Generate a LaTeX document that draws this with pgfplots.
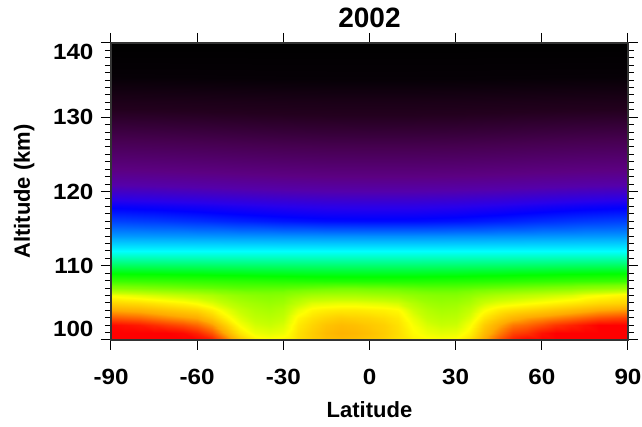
\documentclass[border=0pt]{standalone}
\usepackage{fontspec}
\setmainfont{Liberation Sans}
\newfontfamily\tickfont{Liberation Sans}[FakeStretch=1.1]
\usepackage{pgfplots}
\pgfplotsset{compat=1.18}
\begin{document}
\begin{tikzpicture}
\begin{axis}[
  scale only axis, width=517pt, height=297pt,
  xmin=-90, xmax=90, ymin=100, ymax=140,
  xtick={-90,-60,-30,0,30,60,90}, xticklabels={-90,-60,-30,0,30,60,90},
  ytick={100,110,120,130,140}, yticklabels={100,110,120,130,140},
  minor y tick num=9,
  tick align=outside,
  major tick length=10pt, minor tick length=6pt,
  every tick/.style={black, line width=1pt},
  axis line style={line width=1.2pt, black!80},
  tick label style={font=\tickfont\bfseries\fontsize{22}{22}\selectfont},
  xticklabel style={yshift=-16pt},
  yticklabel style={xshift=-4pt, yshift={(\ticknum==0)*11-(\ticknum==4)*9}},
  colormap={idl}{rgb255(0cm)=(0,0,0); rgb255(10cm)=(6,0,6); rgb255(20cm)=(35,0,30);
    rgb255(28cm)=(70,0,80); rgb255(36cm)=(92,0,130); rgb255(40cm)=(85,0,170);
    rgb255(44cm)=(40,0,235); rgb255(46cm)=(0,0,255); rgb255(50cm)=(0,100,255);
    rgb255(53cm)=(0,180,255); rgb255(56cm)=(0,255,255); rgb255(59cm)=(0,255,130);
    rgb255(62cm)=(0,255,0); rgb255(66cm)=(120,255,0); rgb255(70cm)=(200,255,0);
    rgb255(72cm)=(255,255,0); rgb255(76cm)=(255,170,0); rgb255(78cm)=(255,85,0);
    rgb255(80cm)=(255,0,0)},
  point meta min=0, point meta max=40,
  title={2002},
  title style={font=\bfseries\fontsize{28}{28}\selectfont, at={(axis description cs:0.5,1.064)}, anchor=center},
  xlabel={Latitude}, ylabel={Altitude (km)},
  label style={font=\bfseries\fontsize{22}{22}\selectfont},
  xlabel style={at={(axis description cs:0.5,-0.234)}, anchor=center},
  ylabel style={at={(axis description cs:-0.168,0.5)}, anchor=center},
  axis on top,
]
% upper region
\addplot[surf, shader=interp, mesh/cols=13, point meta=explicit] table[row sep=\\, x=lat, y=alt, meta=d] {
lat alt d\\
-90 108 32\\ -75 108 31.93\\ -60 108 31.83\\ -45 108 31.71\\ -30 108 31.6\\ -15 108 31.52\\ 0 108 31.5\\ 15 108 31.51\\ 30 108 31.57\\ 45 108 31.68\\ 60 108 31.81\\ 75 108 31.93\\ 90 108 32\\
-90 110 30\\ -75 110 29.97\\ -60 110 29.93\\ -45 110 29.88\\ -30 110 29.84\\ -15 110 29.81\\ 0 110 29.8\\ 15 110 29.8\\ 30 110 29.83\\ 45 110 29.87\\ 60 110 29.92\\ 75 110 29.97\\ 90 110 30\\
-90 112 28\\ -75 112 28\\ -60 112 28\\ -45 112 28\\ -30 112 28\\ -15 112 28\\ 0 112 28\\ 15 112 28\\ 30 112 28\\ 45 112 28\\ 60 112 28\\ 75 112 28\\ 90 112 28\\
-90 114 26\\ -75 114 25.97\\ -60 114 25.93\\ -45 114 25.88\\ -30 114 25.84\\ -15 114 25.81\\ 0 114 25.8\\ 15 114 25.8\\ 30 114 25.83\\ 45 114 25.87\\ 60 114 25.92\\ 75 114 25.97\\ 90 114 26\\
-90 116 24.3\\ -75 116 24.15\\ -60 116 23.93\\ -45 116 23.66\\ -30 116 23.42\\ -15 116 23.24\\ 0 116 23.2\\ 15 116 23.22\\ 30 116 23.35\\ 45 116 23.59\\ 60 116 23.88\\ 75 116 24.14\\ 90 116 24.3\\
-90 118 22.8\\ -75 118 22.66\\ -60 118 22.46\\ -45 118 22.22\\ -30 118 22\\ -15 118 21.84\\ 0 118 21.8\\ 15 118 21.82\\ 30 118 21.94\\ 45 118 22.15\\ 60 118 22.42\\ 75 118 22.65\\ 90 118 22.8\\
-90 120 20.8\\ -75 120 20.69\\ -60 120 20.53\\ -45 120 20.34\\ -30 120 20.16\\ -15 120 20.03\\ 0 120 20\\ 15 120 20.02\\ 30 120 20.11\\ 45 120 20.28\\ 60 120 20.5\\ 75 120 20.68\\ 90 120 20.8\\
-90 124 17\\ -75 124 16.86\\ -60 124 16.66\\ -45 124 16.42\\ -30 124 16.2\\ -15 124 16.04\\ 0 124 16\\ 15 124 16.02\\ 30 124 16.14\\ 45 124 16.35\\ 60 124 16.62\\ 75 124 16.85\\ 90 124 17\\
-90 128 13\\ -75 128 12.86\\ -60 128 12.66\\ -45 128 12.42\\ -30 128 12.2\\ -15 128 12.04\\ 0 128 12\\ 15 128 12.02\\ 30 128 12.14\\ 45 128 12.35\\ 60 128 12.62\\ 75 128 12.85\\ 90 128 13\\
-90 132 9\\ -75 132 8.93\\ -60 132 8.83\\ -45 132 8.71\\ -30 132 8.6\\ -15 132 8.52\\ 0 132 8.5\\ 15 132 8.51\\ 30 132 8.57\\ 45 132 8.68\\ 60 132 8.81\\ 75 132 8.93\\ 90 132 9\\
-90 136 4.5\\ -75 136 4.43\\ -60 136 4.33\\ -45 136 4.21\\ -30 136 4.1\\ -15 136 4.02\\ 0 136 4\\ 15 136 4.01\\ 30 136 4.07\\ 45 136 4.18\\ 60 136 4.31\\ 75 136 4.43\\ 90 136 4.5\\
-90 140 0\\ -75 140 0\\ -60 140 0\\ -45 140 0\\ -30 140 0\\ -15 140 0\\ 0 140 0\\ 15 140 0\\ 30 140 0\\ 45 140 0\\ 60 140 0\\ 75 140 0\\ 90 140 0\\
};
% lower region
\addplot[surf, shader=interp, mesh/cols=37, point meta=explicit] table[row sep=\\, x=lat, y=alt, meta=d] {
lat alt d\\
-90 100 40\\ -85 100 40\\ -80 100 40\\ -75 100 40\\ -70 100 40\\ -65 100 40\\ -60 100 40\\ -55 100 39.7\\ -50 100 38.7\\ -45 100 37.4\\ -40 100 36.4\\ -35 100 36.1\\ -30 100 36.3\\ -25 100 36.8\\ -20 100 37.2\\ -15 100 37.5\\ -10 100 37.6\\ -5 100 37.5\\ 0 100 37.3\\ 5 100 37.1\\ 10 100 36.7\\ 15 100 36.3\\ 20 100 36.1\\ 25 100 36\\ 30 100 36.1\\ 35 100 36.8\\ 40 100 38\\ 45 100 39\\ 50 100 39.7\\ 55 100 40\\ 60 100 40\\ 65 100 40\\ 70 100 40\\ 75 100 40\\ 80 100 40\\ 85 100 40\\ 90 100 40\\
-90 101 40\\ -85 101 40\\ -80 101 40\\ -75 101 40\\ -70 101 40\\ -65 101 39.9\\ -60 101 39.6\\ -55 101 39\\ -50 101 37.9\\ -45 101 36.6\\ -40 101 35.7\\ -35 101 35.5\\ -30 101 35.7\\ -25 101 36.7\\ -20 101 37.2\\ -15 101 37.6\\ -10 101 37.8\\ -5 101 37.7\\ 0 101 37.5\\ 5 101 37.2\\ 10 101 36.8\\ 15 101 36.1\\ 20 101 35.7\\ 25 101 35.5\\ 30 101 35.6\\ 35 101 36.3\\ 40 101 37.6\\ 45 101 38.5\\ 50 101 39.2\\ 55 101 39.4\\ 60 101 39.8\\ 65 101 40\\ 70 101 40\\ 75 101 40\\ 80 101 40\\ 85 101 40\\ 90 101 40\\
-90 102 39.9\\ -85 102 39.8\\ -80 102 39.7\\ -75 102 39.5\\ -70 102 39.3\\ -65 102 39.1\\ -60 102 38.8\\ -55 102 38.2\\ -50 102 37.1\\ -45 102 35.9\\ -40 102 35.2\\ -35 102 35\\ -30 102 35.3\\ -25 102 36.5\\ -20 102 37\\ -15 102 37.4\\ -10 102 37.6\\ -5 102 37.5\\ 0 102 37.3\\ 5 102 37.1\\ 10 102 36.7\\ 15 102 35.9\\ 20 102 35.3\\ 25 102 35\\ 30 102 35.1\\ 35 102 35.9\\ 40 102 37.2\\ 45 102 38\\ 50 102 38.6\\ 55 102 38.8\\ 60 102 39.1\\ 65 102 39.4\\ 70 102 39.6\\ 75 102 39.8\\ 80 102 40\\ 85 102 40\\ 90 102 40\\
-90 103 39\\ -85 103 38.9\\ -80 103 38.8\\ -75 103 38.6\\ -70 103 38.4\\ -65 103 38.2\\ -60 103 38\\ -55 103 37.3\\ -50 103 36.3\\ -45 103 35.4\\ -40 103 34.8\\ -35 103 34.6\\ -30 103 34.9\\ -25 103 36.2\\ -20 103 36.7\\ -15 103 37\\ -10 103 37.2\\ -5 103 37.1\\ 0 103 37\\ 5 103 36.8\\ 10 103 36.5\\ 15 103 35.6\\ 20 103 34.9\\ 25 103 34.6\\ 30 103 34.7\\ 35 103 35.4\\ 40 103 36.6\\ 45 103 37.3\\ 50 103 37.8\\ 55 103 38.1\\ 60 103 38.3\\ 65 103 38.5\\ 70 103 38.7\\ 75 103 38.9\\ 80 103 39.1\\ 85 103 39.2\\ 90 103 39.3\\
-90 104 38\\ -85 104 37.9\\ -80 104 37.8\\ -75 104 37.6\\ -70 104 37.4\\ -65 104 37.2\\ -60 104 37\\ -55 104 36.4\\ -50 104 35.6\\ -45 104 34.9\\ -40 104 34.4\\ -35 104 34.2\\ -30 104 34.5\\ -25 104 35.6\\ -20 104 36.2\\ -15 104 36.4\\ -10 104 36.5\\ -5 104 36.5\\ 0 104 36.4\\ 5 104 36.3\\ 10 104 36.1\\ 15 104 35.1\\ 20 104 34.5\\ 25 104 34.2\\ 30 104 34.3\\ 35 104 34.9\\ 40 104 35.9\\ 45 104 36.5\\ 50 104 36.8\\ 55 104 37\\ 60 104 37.2\\ 65 104 37.4\\ 70 104 37.6\\ 75 104 37.8\\ 80 104 38\\ 85 104 38.1\\ 90 104 38.2\\
-90 105 37\\ -85 105 36.9\\ -80 105 36.8\\ -75 105 36.6\\ -70 105 36.4\\ -65 105 36.2\\ -60 105 35.9\\ -55 105 35.4\\ -50 105 34.8\\ -45 105 34.3\\ -40 105 34\\ -35 105 33.8\\ -30 105 34\\ -25 105 34.8\\ -20 105 35.4\\ -15 105 35.5\\ -10 105 35.6\\ -5 105 35.6\\ 0 105 35.5\\ 5 105 35.4\\ 10 105 35.2\\ 15 105 34.5\\ 20 105 34\\ 25 105 33.8\\ 30 105 33.9\\ 35 105 34.3\\ 40 105 35.1\\ 45 105 35.5\\ 50 105 35.7\\ 55 105 35.9\\ 60 105 36.1\\ 65 105 36.3\\ 70 105 36.5\\ 75 105 36.7\\ 80 105 36.9\\ 85 105 37\\ 90 105 37.1\\
-90 106 35.8\\ -85 106 35.6\\ -80 106 35.4\\ -75 106 35.2\\ -70 106 35\\ -65 106 34.8\\ -60 106 34.6\\ -55 106 34.3\\ -50 106 33.9\\ -45 106 33.6\\ -40 106 33.4\\ -35 106 33.3\\ -30 106 33.4\\ -25 106 33.8\\ -20 106 34.1\\ -15 106 34.2\\ -10 106 34.2\\ -5 106 34.2\\ 0 106 34.1\\ 5 106 34\\ 10 106 33.9\\ 15 106 33.6\\ 20 106 33.4\\ 25 106 33.3\\ 30 106 33.3\\ 35 106 33.6\\ 40 106 34\\ 45 106 34.3\\ 50 106 34.5\\ 55 106 34.7\\ 60 106 34.9\\ 65 106 35.1\\ 70 106 35.3\\ 75 106 35.7\\ 80 106 35.9\\ 85 106 36.1\\ 90 106 36.3\\
-90 107 33.4\\ -85 107 33.3\\ -80 107 33.2\\ -75 107 33.1\\ -70 107 33\\ -65 107 32.9\\ -60 107 32.8\\ -55 107 32.7\\ -50 107 32.6\\ -45 107 32.5\\ -40 107 32.5\\ -35 107 32.5\\ -30 107 32.5\\ -25 107 32.6\\ -20 107 32.7\\ -15 107 32.8\\ -10 107 32.9\\ -5 107 32.9\\ 0 107 32.8\\ 5 107 32.8\\ 10 107 32.7\\ 15 107 32.6\\ 20 107 32.5\\ 25 107 32.5\\ 30 107 32.5\\ 35 107 32.6\\ 40 107 32.7\\ 45 107 32.8\\ 50 107 32.9\\ 55 107 33\\ 60 107 33.1\\ 65 107 33.2\\ 70 107 33.3\\ 75 107 33.5\\ 80 107 33.6\\ 85 107 33.7\\ 90 107 33.8\\
-90 108 32\\ -85 108 31.98\\ -80 108 31.95\\ -75 108 31.93\\ -70 108 31.9\\ -65 108 31.86\\ -60 108 31.83\\ -55 108 31.79\\ -50 108 31.75\\ -45 108 31.71\\ -40 108 31.67\\ -35 108 31.64\\ -30 108 31.6\\ -25 108 31.57\\ -20 108 31.55\\ -15 108 31.52\\ -10 108 31.51\\ -5 108 31.51\\ 0 108 31.5\\ 5 108 31.5\\ 10 108 31.51\\ 15 108 31.51\\ 20 108 31.53\\ 25 108 31.55\\ 30 108 31.57\\ 35 108 31.6\\ 40 108 31.64\\ 45 108 31.68\\ 50 108 31.72\\ 55 108 31.77\\ 60 108 31.81\\ 65 108 31.85\\ 70 108 31.89\\ 75 108 31.93\\ 80 108 31.95\\ 85 108 31.98\\ 90 108 32\\
};
\end{axis}
\pgfresetboundingbox
\path (-111pt,-87pt) rectangle (531pt,340pt);
\end{tikzpicture}
\end{document}
